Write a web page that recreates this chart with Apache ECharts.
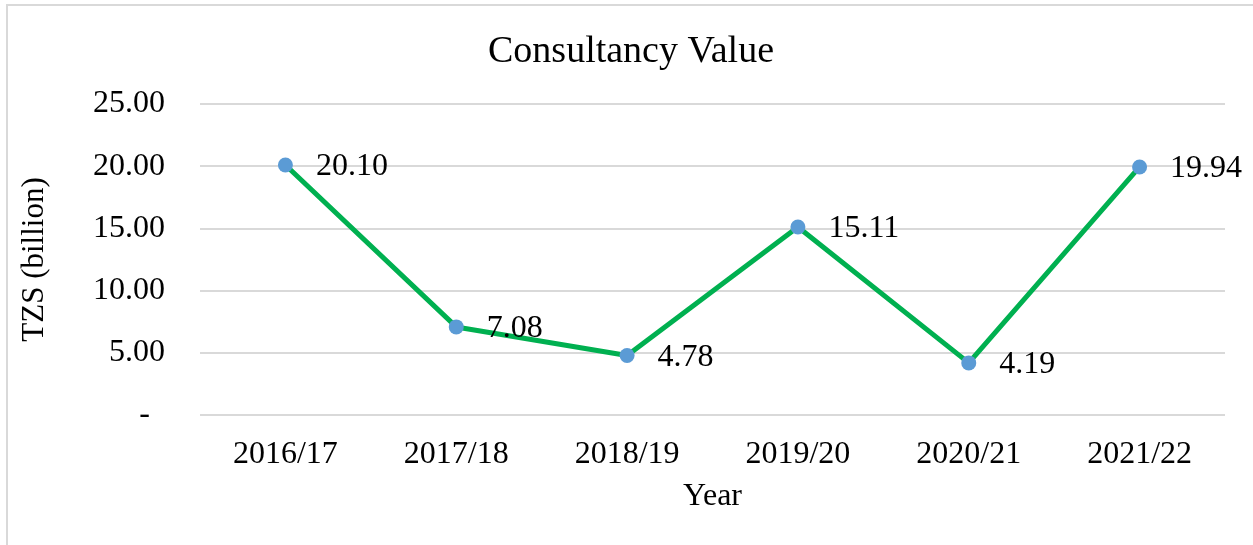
<!DOCTYPE html>
<html>
<head>
<meta charset="utf-8">
<script src="https://cdn.jsdelivr.net/npm/echarts@6/dist/echarts.min.js"></script>
<style>
  html, body { margin: 0; padding: 0; background: #fff; }
  #chart { width: 1253px; height: 545px; }
</style>
</head>
<body>
<div id="chart"></div>
<script>
// Consultancy value by fiscal year, TZS billion
const years = ['2016/17', '2017/18', '2018/19', '2019/20', '2020/21', '2021/22'];
const values = [20.10, 7.08, 4.78, 15.11, 4.19, 19.94];
const yTicks = [0, 5, 10, 15, 20, 25];

const serif = '"Liberation Serif", "Times New Roman", serif';
const chart = echarts.init(document.getElementById('chart'));

chart.setOption({
  animation: false,
  backgroundColor: '#fff',
  graphic: [{
    type: 'rect',
    shape: { x: 7, y: 5, width: 1260, height: 560 },
    style: { fill: 'none', stroke: '#d9d9d9', lineWidth: 2 },
    silent: true
  }],
  title: {
    text: 'Consultancy Value',
    left: 626,
    top: 28,
    textAlign: 'center',
    textStyle: { fontFamily: serif, fontSize: 38, fontWeight: 'normal', color: '#000' }
  },
  grid: { left: 200, right: 28, top: 104, bottom: 130, containLabel: false },
  xAxis: {
    type: 'category',
    data: years,
    boundaryGap: true,
    name: 'Year',
    nameLocation: 'middle',
    nameGap: 66,
    nameTextStyle: { fontFamily: serif, fontSize: 32, color: '#000' },
    axisLine: { show: false },
    axisTick: { show: false },
    axisLabel: { fontFamily: serif, fontSize: 32, color: '#000', margin: 24 }
  },
  yAxis: {
    type: 'value',
    min: yTicks[0],
    max: yTicks[yTicks.length - 1],
    interval: yTicks[1] - yTicks[0],
    name: 'TZS (billion)',
    nameLocation: 'middle',
    nameGap: 150,
    nameRotate: 90,
    nameTextStyle: { fontFamily: serif, fontSize: 31, color: '#000' },
    axisLine: { show: false },
    axisTick: { show: false },
    splitLine: { lineStyle: { color: '#d9d9d9', width: 2 } },
    axisLabel: {
      fontFamily: serif, fontSize: 32, color: '#000', margin: 35,
      formatter: function (v) { return v === 0 ? '{dash|-}' : v.toFixed(2); },
      rich: { dash: { fontFamily: serif, fontSize: 32, color: '#000', padding: [0, 15, 0, 0] } }
    }
  },
  series: [{
    type: 'line',
    data: values,
    symbol: 'circle',
    symbolSize: 15,
    lineStyle: { color: '#00b050', width: 5 },
    itemStyle: { color: '#5b9bd5' },
    z: 3,
    label: {
      show: true,
      position: 'right',
      distance: 23,
      offset: [0, 2],
      fontFamily: serif,
      fontSize: 32,
      color: '#000',
      formatter: function (p) { return p.value.toFixed(2); }
    }
  }]
});
</script>
</body>
</html>
